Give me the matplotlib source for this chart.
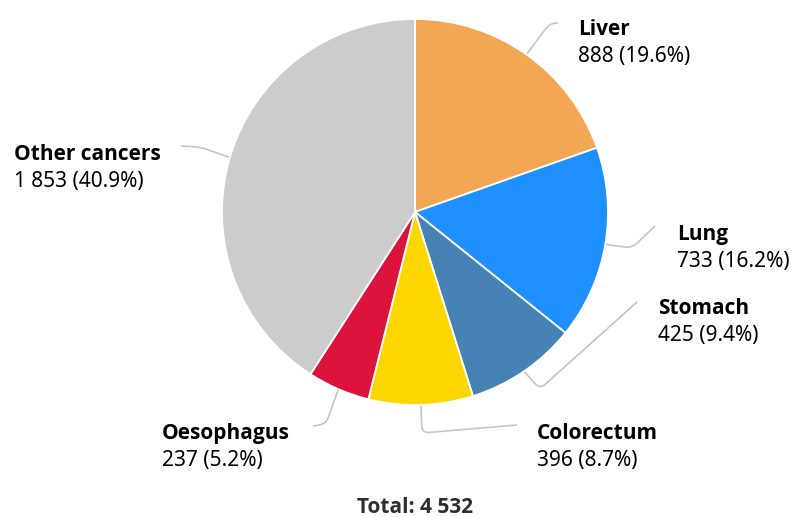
import numpy as np
import matplotlib
matplotlib.use("Agg")
import matplotlib.pyplot as plt
from matplotlib.path import Path
from matplotlib.patches import PathPatch

plt.rcParams["font.family"] = ["Noto Sans", "DejaVu Sans"]
BOLD_FAMILY = ["Open Sans", "DejaVu Sans"]  # Noto Sans has no bold face here

# data
cancers = ["Liver", "Lung", "Stomach", "Colorectum", "Oesophagus", "Other cancers"]
cases = [888, 733, 425, 396, 237, 1853]
value_labels = ["888", "733", "425", "396", "237", "1 853"]
total_label = "4 532"
colors = ["#F3A654", "#1E90FF", "#4682B4", "#FFD700", "#DC143C", "#CCCCCC"]

# layout, in pixels from the top-left corner (label y = baseline of name)
W, H = 792, 517
cx, cy, radius = 415, 212, 193
label_xy = [(578, 35), (677, 240), (658, 314), (537, 439), (162, 439), (14, 160)]
elbows = [(550, 23), (632, 248), (540, 389), (422, 433), (326, 424), (200, 147)]
line_ends = [(558, 23), (655, 226), (637, 302), (517, 425), (313, 426), (181, 146)]


def py(y):
    return H - y


fig = plt.figure(figsize=(W / 100, H / 100), dpi=100)
ax = fig.add_axes([0, 0, 1, 1])

wedges, _ = ax.pie(
    cases,
    colors=colors,
    startangle=90,
    counterclock=False,
    radius=radius,
    center=(cx, py(cy)),
    wedgeprops=dict(edgecolor="white", linewidth=1.3),
)
ax.set_xlim(0, W)
ax.set_ylim(0, H)
ax.set_aspect("equal")
ax.axis("off")


def crook(p0, p1, p2, rr=7):
    p0, p1, p2 = (np.array(p, dtype=float) for p in (p0, p1, p2))
    d0 = (p0 - p1) / np.linalg.norm(p0 - p1)
    d2 = (p2 - p1) / np.linalg.norm(p2 - p1)
    a = p1 + d0 * rr
    b = p1 + d2 * rr
    verts = [p0, a, p1, b, p2]
    codes = [Path.MOVETO, Path.LINETO, Path.CURVE3, Path.CURVE3, Path.LINETO]
    return Path(verts, codes)


pcts = 100 * np.array(cases) / sum(cases)
for i, w in enumerate(wedges):
    mid = np.deg2rad((w.theta1 + w.theta2) / 2)
    start = (cx + radius * np.cos(mid), py(cy) + radius * np.sin(mid))
    elbow = (elbows[i][0], py(elbows[i][1]))
    end = (line_ends[i][0], py(line_ends[i][1]))
    ax.add_patch(
        PathPatch(crook(start, elbow, end), facecolor="none",
                  edgecolor="#C4C4C4", linewidth=1.2, zorder=0)
    )
    lx, ly = label_xy[i]
    ax.text(lx, py(ly), cancers[i], fontsize=15, fontweight="bold",
            family=BOLD_FAMILY, color="black", ha="left", va="baseline")
    ax.text(lx, py(ly + 27), f"{value_labels[i]} ({pcts[i]:.1f}%)",
            fontsize=15, color="black", ha="left", va="baseline")

ax.text(cx, py(513), f"Total: {total_label}", fontsize=15, fontweight="bold",
        family=BOLD_FAMILY, color="#2B2E33", ha="center", va="baseline")

fig.savefig("out.png", dpi=100)
